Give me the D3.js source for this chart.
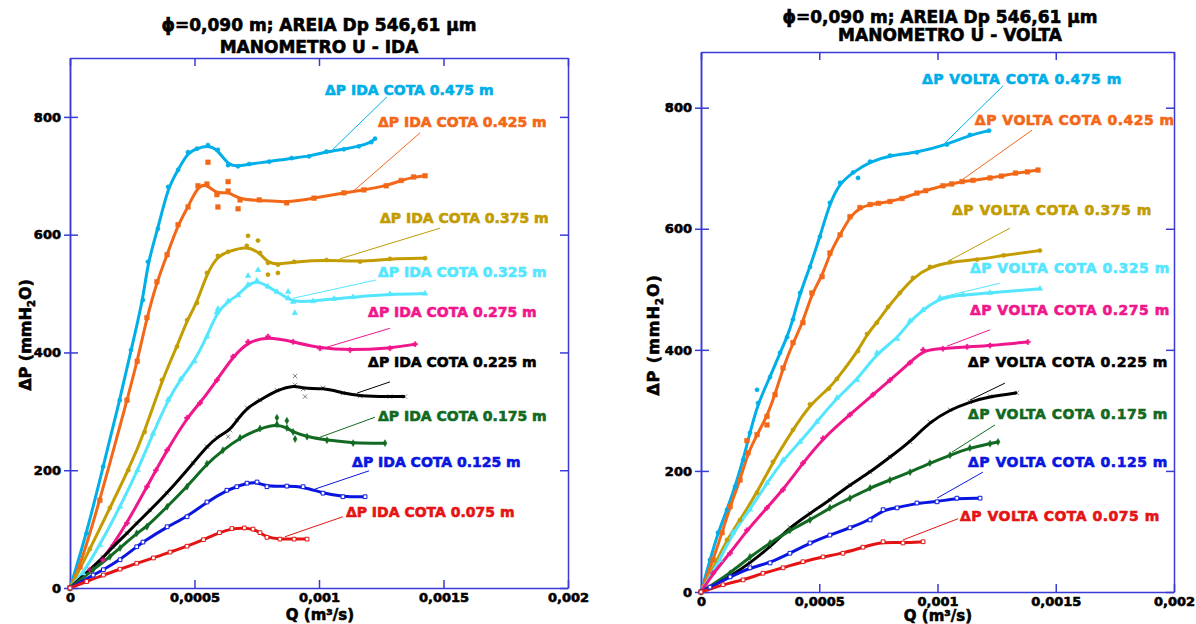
<!DOCTYPE html>
<html>
<head>
<meta charset="utf-8">
<script src="https://cdn.jsdelivr.net/npm/d3@7"></script>
<style>
body { margin:0; background:#fff; }
text { font-family: "DejaVu Sans", "Liberation Sans", sans-serif; font-weight: bold; }
</style>
</head>
<body>
<svg id="chart" width="1196" height="624"></svg>
<script>

// ---- data: Q (m3/s), dP (mmH2O) ----
var qTicks = [0, 0.0005, 0.001, 0.0015, 0.002];
var qTickLabels = ["0", "0,0005", "0,001", "0,0015", "0,002"];
var pTicks = [0, 200, 400, 600, 800];
var cotas = ["0.475", "0.425", "0.375", "0.325", "0.275", "0.225", "0.175", "0.125", "0.075"];

// IDA (upward flow)
var ida475 = [[0,0],[.000067,93],[.000133,206],[.0002,319],[.000245,404],[.000293,489],[.000313,554],[.000353,610],[.000394,681],[.000434,710],[.000474,740],[.00051,746],[.000554,752],[.000594,744],[.000635,718],[.000675,716],[.00072,720],[.0008,724],[.00089,730],[.00096,733],[.00103,741],[.0011,745],[.00116,750],[.00121,757],[.001225,763]];
var ida425 = [[0,0],[.00004,36],[.00012,149],[.000229,319],[.00027,385],[.000309,459],[.000349,520],[.00039,566],[.000434,617],[.000474,647],[.000514,683],[.00055,686],[.00059,668],[.000635,674],[.000683,659],[.00076,659],[.00087,654],[.00098,662],[.0011,671],[.00118,676],[.00127,683],[.00133,692],[.00138,698],[.001426,700]];
var ida375 = [[0,0],[.00008,66],[.00016,136],[.000234,200],[.0003,265],[.000369,353],[.00043,410],[.00047,455],[.00051,484],[.00055,535],[.000594,564],[.000635,571],[.00071,581],[.000763,569],[.000795,552],[.000835,549],[.0009,554],[.00103,557],[.001165,554],[.001285,559],[.001426,560]];
var ida325 = [[0,0],[.000052,25],[.00012,73],[.000201,138],[.000272,200],[.000333,262],[.000394,320],[.000445,355],[.0005,385],[.00055,427],[.00059,468],[.000635,487],[.000675,497],[.000715,515],[.000751,522],[.000795,512],[.000831,503],[.000876,492],[.000896,486],[.000976,487],[.00106,491],[.001137,494],[.001285,499],[.001426,500]];
var ida275 = [[0,0],[.00008,31],[.000133,48],[.000229,110],[.000309,172],[.000345,200],[.00039,234],[.00047,289],[.000522,314],[.00059,353],[.000655,393],[.000715,418],[.000795,427],[.000896,418],[.001004,407],[.001125,404],[.001285,407],[.001386,414]];
var ida225 = [[0,0],[.00008,31],[.000133,52],[.000173,70],[.000229,93],[.000268,110],[.000321,132],[.00039,161],[.000494,212],[.00055,240],[.00059,256],[.000643,268],[.00067,285],[.000711,306],[.000763,319],[.000831,336],[.000904,345],[.000936,338],[.001016,340],[.001096,331],[.001165,326],[.001285,325],[.001345,325]];
var ida175 = [[0,0],[.000093,31],[.00016,53],[.000201,68],[.000268,93],[.000309,104],[.00039,138],[.00047,172],[.00055,211],[.000614,234],[.000683,255],[.000763,271],[.000831,278],[.000871,272],[.000896,265],[.000952,257],[.001032,251],[.001137,246],[.001265,246]];
var ida125 = [[0,0],[.000093,22],[.000134,31],[.000201,48],[.000268,70],[.000293,78],[.00039,104],[.00047,121],[.00055,146],[.00063,166],[.00067,172],[.000711,178],[.000751,180],[.000791,172],[.000871,173],[.000936,172],[.001016,161],[.001096,155],[.001185,155]];
var ida075 = [[0,0],[.000067,11],[.000134,22],[.000201,32],[.000268,42],[.000335,51],[.000402,61],[.00047,71],[.000536,82],[.0006,94],[.00065,101],[.0007,102],[.000735,100],[.000763,94],[.000791,86],[.000843,83],[.0009,83],[.000952,83]];

// IDA scattered readings
var ida425Off = [[.000554,723],[.000594,647],[.000635,690],[.000675,644]];
var ida375Off = [[.000715,598],[.000755,590],[.000795,532],[.000835,535]];
var ida325Off = [[.000594,474],[.000715,530],[.000755,540],[.000876,503],[.000903,467]];
var ida225Off = [[.000904,360],[.000944,325],[.000635,257]];
var ida175Off = [[.000831,289],[.000871,284],[.000904,253]];

// VOLTA (return flow)
var vol475 = [[0,0],[.000038,53],[.000072,98],[.00011,136],[.000144,174],[.000178,218],[.000207,263],[.000241,312],[.000292,355],[.000334,395],[.000364,421],[.000389,450],[.000419,494],[.000461,537],[.000503,587],[.000545,643],[.000588,676],[.000643,693],[.000715,711],[.000799,721],[.000913,726],[.00104,739],[.001137,755],[.001218,762]];
var vol425 = [[0,0],[.000051,53],[.000089,98],[.000123,141],[.000165,185],[.000199,230],[.000237,260],[.000279,290],[.000313,326],[.000347,370],[.000389,412],[.000431,445],[.000469,494],[.000512,521],[.000545,560],[.000588,590],[.00063,620],[.000672,635],[.000715,640],[.00075,642],[.000799,645],[.00085,650],[.000913,659],[.00095,663],[.001023,671],[.00106,674],[.001104,678],[.00115,680],[.001222,684],[.00127,687],[.00133,692],[.00138,694],[.001425,697]];
var vol375 = [[0,0],[.000068,53],[.00011,86],[.000165,119],[.000237,164],[.000304,215],[.000389,268],[.000461,310],[.000541,336],[.000575,352],[.000664,398],[.000702,426],[.000744,445],[.000791,471],[.000841,494],[.000896,519],[.000968,537],[.001053,545],[.001167,549],[.00128,556],[.001433,564]];
var vol325 = [[0,0],[.00008,53],[.000135,98],[.000207,136],[.000279,180],[.000347,218],[.000419,248],[.00049,281],[.000575,321],[.00066,350],[.000744,395],[.000829,418],[.000884,448],[.000939,466],[.00101,486],[.001108,491],[.001222,494],[.001433,501]];
var vol275 = [[0,0],[.000051,31],[.000123,64],[.000194,102],[.000279,139],[.000347,169],[.000431,213],[.000516,254],[.00063,293],[.000727,326],[.000799,350],[.000884,379],[.000939,400],[.001023,402],[.001125,405],[.001222,407],[.001382,413]];
var vol225 = [[0,0],[.000123,25],[.000207,48],[.000292,74],[.000376,107],[.000461,130],[.000545,152],[.00063,177],[.000715,198],[.000799,223],[.000884,248],[.000968,281],[.001053,301],[.001137,314],[.001222,323],[.001336,329]];
var vol175 = [[0,0],[.000123,31],[.000207,58],[.000292,81],[.000376,102],[.000461,119],[.000545,139],[.00063,155],[.000715,172],[.000799,185],[.000884,198],[.000968,213],[.001053,226],[.001137,238],[.001222,245],[.001256,248]];
var vol125 = [[0,0],[.000038,8],[.000123,25],[.000207,40],[.000292,48],[.000376,64],[.000461,81],[.000545,94],[.00063,106],[.000715,119],[.00077,136],[.000829,139],[.000913,147],[.000998,149],[.001082,155],[.00118,155]];
var vol075 = [[0,0],[.000093,12],[.000178,20],[.000262,31],[.000347,40],[.000431,50],[.000516,58],[.0006,64],[.000685,74],[.00077,83],[.000854,81],[.000939,83]];

var vol475Off = [[.000237,334],[.000664,684]];
var vol425Off = [[.000279,276],[.000194,250]];

// label anchors and leader lines (data units)
var idaLabelAt = [[.001024,837],[.001237,783],[.001245,620],[.001237,528],[.001197,460],[.001197,375],[.001237,284],[.001133,205],[.001108,121]];
var idaLeader = [[.001273,834,.001056,745],[.001406,773,.001133,672],[.001486,611,.001084,559],[.001229,523,.000896,492],[.001285,441,.001032,409],[.001285,350,.001153,331],[.001225,290,.001004,256],[.001201,199,.000984,168],[.001096,121,.000863,87]];
var volLabelAt = [[.000934,839],[.001158,771],[.001061,623],[.001137,527],[.001137,458],[.001129,372],[.001129,286],[.001129,206],[.001095,117]];
var volLeader = [[.001277,836,.001032,742],[.0014,763,.001108,682],[.001306,601,.001053,548],[.001264,510,.001006,486],[.001222,433,.00104,406],[.001285,345,.001137,317],[.001243,276,.001061,231],[.001192,198,.000998,155],[.001087,121,.000854,86]];

// ---- styles ----
var colors = ["#00aee8", "#f26818", "#c29c00", "#55e6ff", "#f0168c", "#000000", "#126a22", "#0a16e0", "#e41414"];
var symbols = [d3.symbolCircle, d3.symbolSquare, d3.symbolCircle, d3.symbolTriangle, d3.symbolCross, d3.symbolTimes, d3.symbolDiamond, d3.symbolSquare, d3.symbolSquare];
var AXIS = "#3a3ad6";

var svg = d3.select("#chart");

// heavier look for the bold text (reference uses a black-weight face)
function heavy(sel, c) {
    sel.attr("stroke", c).attr("stroke-width", 0.6).attr("paint-order", "stroke");
}

function panel(o) {

    var x = d3.scaleLinear().domain([0, 0.002]).range([o.x0, o.x1]);
    var y = d3.scaleLinear().domain([0, o.pmax]).range([o.y0, o.y1]);

    var g = svg.append("g");

    g.append("text")
	.attr("x", o.t1[0])
	.attr("y", o.t1[1])
	.attr("text-anchor", "middle")
	.attr("font-size", 17)
	.call(heavy, "#000")
	.text("\u03d5=0,090 m; AREIA Dp 546,61 \u03bcm");

    g.append("text")
	.attr("x", o.t2[0])
	.attr("y", o.t2[1])
	.attr("text-anchor", "middle")
	.attr("font-size", 17)
	.call(heavy, "#000")
	.text(o.subtitle);

    // axes (ticks inward on all sides, labelled left / bottom)
    g.append("g")
	.attr("transform", "translate(0," + o.y0 + ")")
	.call(d3.axisBottom(x).tickValues(qTicks).tickSize(-8).tickSizeOuter(0).tickPadding(5)
	      .tickFormat(function(d, i) { return qTickLabels[i]; }));
    g.append("g")
	.attr("transform", "translate(0," + o.y1 + ")")
	.call(d3.axisTop(x).tickValues(qTicks).tickSize(-8).tickSizeOuter(0).tickFormat(""));
    g.append("g")
	.attr("transform", "translate(" + o.x0 + ",0)")
	.call(d3.axisLeft(y).tickValues(pTicks).tickSize(6).tickSizeOuter(0).tickPadding(3));
    g.append("g")
	.attr("transform", "translate(" + o.x0 + ",0)")
	.call(d3.axisLeft(y).tickValues(pTicks).tickSize(-8).tickSizeOuter(0).tickFormat(""));
    g.append("g")
	.attr("transform", "translate(" + o.x1 + ",0)")
	.call(d3.axisRight(y).tickValues(pTicks).tickSize(-8).tickSizeOuter(0).tickFormat(""));

    g.selectAll(".domain, .tick line")
	.attr("stroke", AXIS)
	.attr("stroke-width", 1.5);
    g.selectAll(".tick text")
	.attr("fill", "#000")
	.attr("font-size", 13)
	.attr("font-family", "DejaVu Sans")
	.attr("font-weight", "bold")
	.call(heavy, "#000");

    // axis titles
    g.append("text")
	.attr("x", o.xl[0])
	.attr("y", o.xl[1])
	.attr("text-anchor", "middle")
	.attr("font-size", 15)
	.call(heavy, "#000")
	.text("Q (m\u00b3/s)");

    var yl = g.append("text")
	.attr("transform", "translate(" + o.yl[0] + "," + o.yl[1] + ") rotate(-90)")
	.attr("text-anchor", "middle")
	.attr("font-size", 16)
	.attr("letter-spacing", o.ls)
	.call(heavy, "#000");
    yl.append("tspan").text("\u0394P (mmH");
    yl.append("tspan").attr("font-size", 10).attr("dy", 4).text("2");
    yl.append("tspan").attr("dy", -4).text("O)");

    var line = d3.line()
	.x(function(d) { return x(d[0]); })
	.y(function(d) { return y(d[1]); })
	.curve(d3.curveBasis);

    // leader lines
    g.selectAll("line.leader")
	.data(o.leader)
	.enter().append("line")
	.attr("class", "leader")
	.attr("x1", function(d) { return x(d[0]); })
	.attr("y1", function(d) { return y(d[1]); })
	.attr("x2", function(d) { return x(d[2]); })
	.attr("y2", function(d) { return y(d[3]); })
	.attr("stroke", function(d, i) { return colors[i]; })
	.attr("stroke-width", 1);

    // fitted curves
    g.selectAll("path.fit")
	.data(o.series)
	.enter().append("path")
	.attr("class", "fit")
	.attr("d", line)
	.attr("fill", "none")
	.attr("stroke", function(d, i) { return colors[i]; })
	.attr("stroke-width", 3)
	.attr("stroke-linejoin", "round");

    // readings
    o.series.forEach(function(s, i) {
	var pts = s.concat(o.off[i] || []);
	var open = (i == 7 || i == 8);
	g.selectAll("path.m" + i)
	    .data(pts)
	    .enter().append("path")
	    .attr("class", "m" + i)
	    .attr("transform", function(d) { return "translate(" + x(d[0]) + "," + y(d[1]) + ")"; })
	    .attr("d", d3.symbol().type(symbols[i]).size(i == 1 ? 22 : 14))
	    .attr("fill", open ? "#fff" : colors[i])
	    .attr("stroke", colors[i])
	    .attr("stroke-width", open ? 1 : 0.5);
    });

    // labels
    g.selectAll("text.lab")
	.data(o.labelAt)
	.enter().append("text")
	.attr("class", "lab")
	.attr("x", function(d) { return x(d[0]); })
	.attr("y", function(d) { return y(d[1]); })
	.attr("font-size", 14)
	.attr("letter-spacing", o.lls)
	.attr("fill", function(d, i) { return colors[i]; })
	.attr("stroke", function(d, i) { return colors[i]; })
	.attr("stroke-width", 0.6)
	.text(function(d, i) { return "\u0394P " + o.word + " COTA " + cotas[i] + " m"; });
}

panel({
    x0: 70, x1: 568, y0: 588, y1: 58, pmax: 900,
    t1: [319, 31], t2: [319, 53],
    subtitle: "MANOMETRO U - IDA",
    xl: [320, 620], yl: [31, 335], ls: 0, lls: 0,
    word: "IDA",
    series: [ida475, ida425, ida375, ida325, ida275, ida225, ida175, ida125, ida075],
    off: [null, ida425Off, ida375Off, ida325Off, null, ida225Off, ida175Off, null, null],
    labelAt: idaLabelAt,
    leader: idaLeader
});

panel({
    x0: 701, x1: 1174, y0: 592, y1: 52, pmax: 892,
    t1: [940, 23], t2: [950, 41],
    subtitle: "MANOMETRO U - VOLTA",
    xl: [938, 621], yl: [659, 335], ls: 1, lls: 0.5,
    word: "VOLTA",
    series: [vol475, vol425, vol375, vol325, vol275, vol225, vol175, vol125, vol075],
    off: [vol475Off, vol425Off],
    labelAt: volLabelAt,
    leader: volLeader
});

</script>
</body>
</html>
